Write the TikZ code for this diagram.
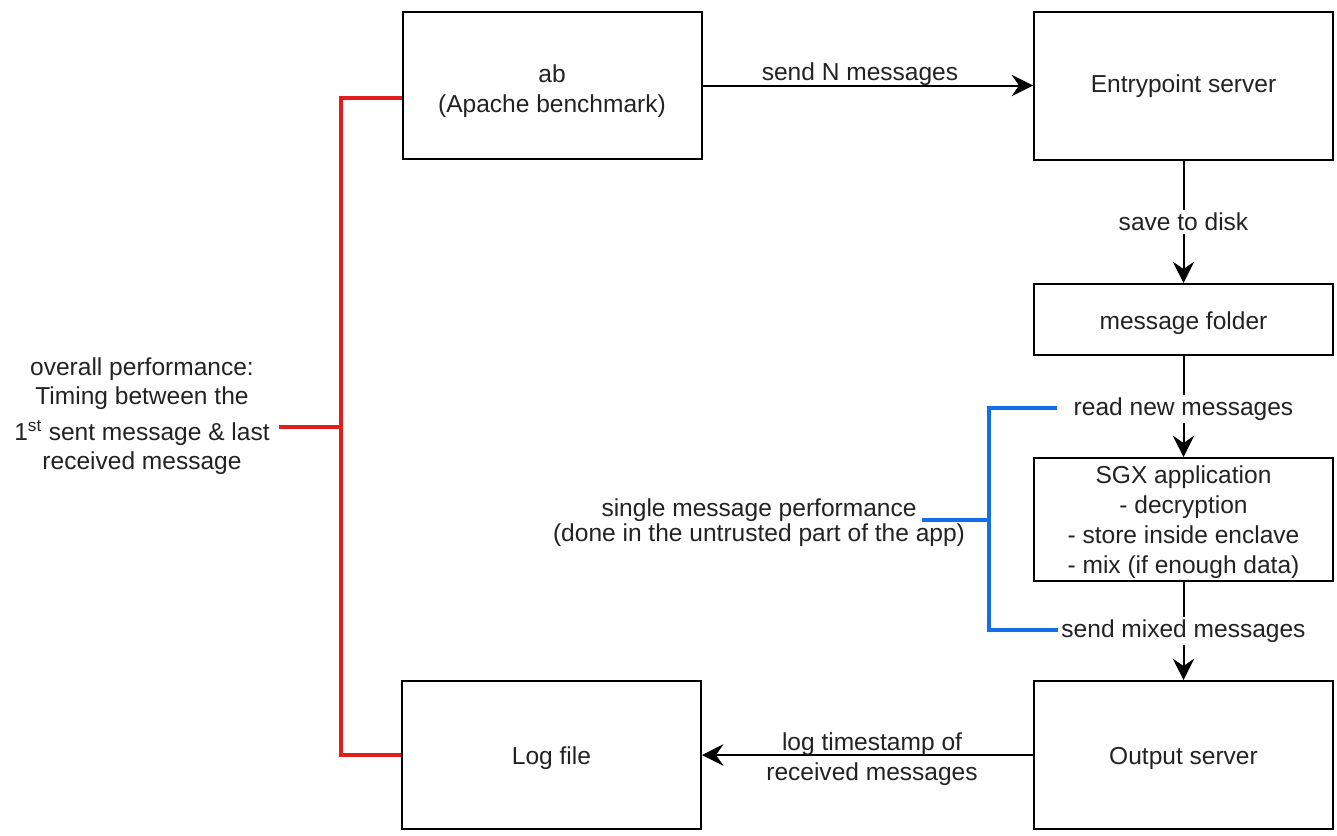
\documentclass[tikz,border=0pt]{standalone}
\usepackage{fontspec}
\setmainfont{Liberation Sans}
\usetikzlibrary{arrows.meta}
\definecolor{txt}{RGB}{34,34,34}
\definecolor{redl}{RGB}{225,30,30}
\definecolor{bluel}{RGB}{20,110,230}
\begin{document}
\begin{tikzpicture}[x=0.75pt,y=-0.75pt,
  every node/.style={font=\fontsize{18.4}{22}\selectfont, text=txt},
  box/.style={draw=black, line width=1.5pt, minimum width=224.25pt, align=center, inner sep=0pt},
  arr/.style={draw=black, line width=1.5pt, -{Stealth[length=16pt,width=16pt,inset=5.5pt]}},
  lbl/.style={fill=white, inner sep=2pt, align=center},
  plainlbl/.style={inner sep=0pt, align=center},
  redline/.style={draw=redl, line width=3pt},
  blueline/.style={draw=bluel, line width=3pt}]
\useasboundingbox (0,0) rectangle (1337,835);

% boxes
\node[box, minimum height=110.25pt] (ab) at (552,85.5) {};
\node[plainlbl] (abtxt) at (552,91) {ab\\(Apache benchmark)};
\node[box, minimum height=111pt] (entry) at (1183.5,86) {Entrypoint server};
\node[box, minimum height=53.25pt] (folder) at (1183.5,319.5) {};
\node[plainlbl] (foldertxt) at (1183.5,323) {message folder};
\node[box, minimum height=92.25pt] (sgx) at (1183.5,519.5) {};
\node[plainlbl, font=\fontsize{18.4}{22.4}\selectfont] (sgxtxt) at (1183.5,522) {SGX application\\- decryption\\- store inside enclave\\- mix (if enough data)};
\node[box, minimum height=111pt] (output) at (1183.5,755) {};
\node[plainlbl] (outputtxt) at (1183.5,758) {Output server};
\node[box, minimum height=111pt] (log) at (551.5,755) {};
\node[plainlbl] (logtxt) at (551.5,758) {Log file};

% free labels
\node[plainlbl] (overall) at (142,416) {overall performance:\\Timing between the\\[4.5pt]1\textsuperscript{st} sent message \& last\\received message};
\node[plainlbl, font=\fontsize{18.4}{18.75}\selectfont] (single) at (759,523) {single message performance\\(done in the untrusted part of the app)};

% arrows
\draw[arr] (ab.east) -- (ab.east -| entry.west);
\node[plainlbl] (sendN) at (860,74) {send N messages};
\draw[arr] (entry.south) -- node[lbl] (save) {save to disk} (folder.north);
\draw[arr] (folder.south) -- node[lbl, yshift=-2pt] (readlbl) {read new messages} (sgx.north);
\draw[arr] (sgx.south) -- node[lbl] (sendlbl) {send mixed messages} (output.north);
\draw[arr] (output.west) -- (log.east);
\node[plainlbl] (loglbl) at (872,759) {log timestamp of\\received messages};

% red bracket
\coordinate (rtop) at (341,98);
\coordinate (rbot) at (341,755);
\coordinate (rmid) at (341,427);
\coordinate (rtxt) at (279,427);
\draw[redline] (ab.west |- rtop) -- (rtop) -- (rbot) -- (rbot -| log.west);
\draw[redline] (rtxt) -- (rmid);

% blue bracket
\coordinate (bte) at (1057,408);
\coordinate (bt) at (989,408);
\coordinate (bb) at (989,630);
\coordinate (bbe) at (1058,630);
\coordinate (bm) at (989,520);
\coordinate (bl) at (922,520);
\draw[blueline] (bte) -- (bt) -- (bb) -- (bbe);
\draw[blueline] (bl) -- (bm);
\end{tikzpicture}
\end{document}
